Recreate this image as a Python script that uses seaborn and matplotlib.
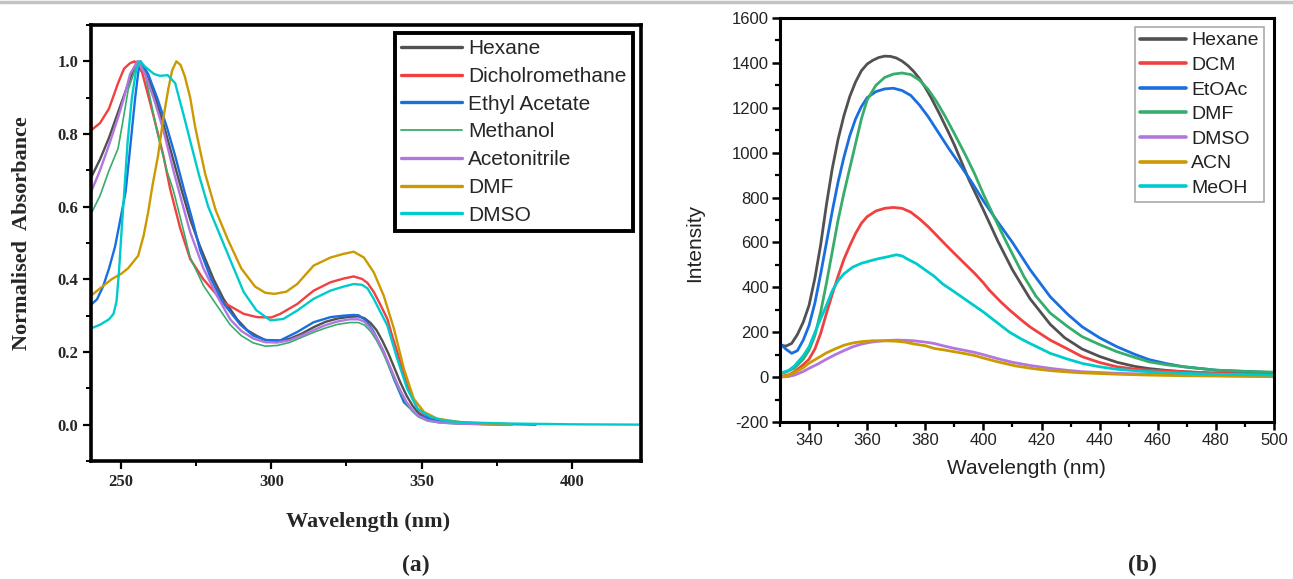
import matplotlib
matplotlib.use("Agg")
import matplotlib.pyplot as plt
import numpy as np
import pandas as pd
import seaborn as sns
from matplotlib.lines import Line2D
from matplotlib.ticker import MultipleLocator
from matplotlib.colors import to_hex

# ---------------- (a) UV-Vis absorbance data ----------------
abs_names = ["Hexane", "Dicholromethane", "Ethyl Acetate", "Methanol",
             "Acetonitrile", "DMF", "DMSO"]
abs_colors = ["#515151", "#F14040", "#1A6FDF", "#37AD6B", "#B177DE", "#CC9900", "#00CBCC"]

hex_x = [240, 243, 246, 249, 252, 254, 255.5, 258, 261, 264, 267, 270, 273, 276.3, 280.8, 284.1, 288.6,
         292, 295, 298, 302, 306, 310, 314, 318, 322, 326, 329, 331, 333, 335, 337, 339, 341, 343, 345,
         347, 349, 352, 356, 362, 370, 380]
hex_y = [0.68, 0.73, 0.79, 0.86, 0.93, 0.975, 1.0, 0.97, 0.91, 0.83, 0.74, 0.65, 0.565, 0.49, 0.40, 0.346, 0.29,
         0.26, 0.245, 0.233, 0.23, 0.236, 0.25, 0.268, 0.283, 0.292, 0.297, 0.298, 0.293, 0.28, 0.26, 0.23,
         0.195, 0.155, 0.115, 0.08, 0.052, 0.032, 0.016, 0.008, 0.004, 0.002, 0.0]

dcm_x = [240, 243, 246, 249, 251, 253, 254.5, 257, 260.8, 264.1, 266.3, 269.7, 273, 277.4, 284, 290.8, 295.2,
         300, 303, 308.6, 314.1, 319.7, 324, 327.4, 330.2, 332, 334.1, 336, 338.6, 340, 341.9, 345.2, 348.6,
         353, 358, 365, 380]
dcm_y = [0.81, 0.83, 0.87, 0.94, 0.98, 0.995, 1.0, 0.97, 0.85, 0.74, 0.65, 0.54, 0.456, 0.40, 0.337, 0.305, 0.296,
         0.295, 0.305, 0.332, 0.369, 0.392, 0.402, 0.408, 0.401, 0.39, 0.365, 0.335, 0.291, 0.25, 0.2, 0.108, 0.044,
         0.0165, 0.008, 0.004, 0.0]

eta_x = [240, 242, 244, 246, 248, 250, 251.5, 253, 254.7, 255.8, 256.5, 259, 262, 265.2, 268, 271, 274, 276.3,
         280, 284, 289.7, 294, 298, 303, 308.6, 314.1, 319.7, 324, 327.4, 329, 330.8, 332.5, 334.1, 337.4,
         340.8, 344.1, 348.6, 355.2, 362, 370, 388]
eta_y = [0.33, 0.345, 0.38, 0.43, 0.49, 0.575, 0.64, 0.76, 0.90, 0.975, 1.0, 0.965, 0.90, 0.82, 0.74, 0.645, 0.555,
         0.48, 0.40, 0.335, 0.275, 0.245, 0.233, 0.232, 0.255, 0.282, 0.296, 0.300, 0.302, 0.301, 0.291, 0.275,
         0.255, 0.2, 0.126, 0.062, 0.026, 0.012, 0.006, 0.003, 0.0]

meo_x = [240, 243, 246, 249, 250.5, 252.4, 255.2, 256, 258, 261.9, 265.2, 267.4, 269.7, 273, 277.4, 281.9,
         286.3, 290, 294, 298, 302, 306, 310, 314, 318, 322, 326, 329, 331, 333, 335, 337, 339, 341, 343,
         345, 347, 349, 352, 356, 362, 370, 380]
meo_y = [0.58, 0.63, 0.70, 0.76, 0.83, 0.923, 0.99, 1.0, 0.965, 0.81, 0.70, 0.645, 0.57, 0.46, 0.383, 0.328,
         0.275, 0.245, 0.225, 0.216, 0.218, 0.226, 0.24, 0.254, 0.266, 0.276, 0.281, 0.281, 0.274, 0.257, 0.232,
         0.2, 0.163, 0.123, 0.088, 0.058, 0.036, 0.021, 0.01, 0.005, 0.002, 0.001, 0.0]

acn_x = [240, 243, 246, 249, 251, 253, 255.5, 258, 261, 264.1, 267.4, 270, 273, 277.4, 281.9, 286.3, 290, 294,
         298, 302, 306, 310, 314, 318, 322, 326, 329, 331, 333, 335, 337, 339, 341, 343, 345, 347, 349, 352,
         356, 362, 370, 380]
acn_y = [0.64, 0.70, 0.77, 0.845, 0.90, 0.965, 1.0, 0.965, 0.895, 0.81, 0.70, 0.62, 0.53, 0.43, 0.355, 0.29,
         0.258, 0.237, 0.227, 0.226, 0.232, 0.245, 0.26, 0.274, 0.284, 0.29, 0.29, 0.283, 0.265, 0.24, 0.208,
         0.17, 0.13, 0.093, 0.062, 0.04, 0.024, 0.012, 0.006, 0.003, 0.001, 0.0]

dmf_x = [240, 243, 246.8, 250, 252.3, 255.7, 257.5, 259, 260.5, 262.3, 264, 265.7, 267, 268.4, 269.8, 271.2,
         273, 274.6, 276.3, 278, 281.5, 285.5, 290, 294.6, 298, 301, 305, 308.6, 314.1, 319.7, 324, 327.4,
         330.8, 334.1, 337.4, 340.8, 344.1, 347.4, 350.8, 355.2, 363, 372, 380]
dmf_y = [0.355, 0.375, 0.40, 0.415, 0.43, 0.465, 0.52, 0.584, 0.66, 0.74, 0.84, 0.923, 0.975, 1.0, 0.99, 0.959,
         0.90, 0.822, 0.755, 0.69, 0.59, 0.51, 0.43, 0.38, 0.363, 0.36, 0.366, 0.387, 0.438, 0.46, 0.47, 0.476,
         0.46, 0.419, 0.355, 0.264, 0.154, 0.071, 0.035, 0.0165, 0.007, 0.003, 0.0]

dms_x = [240, 243, 246, 247.5, 248.5, 249.3, 250.3, 251.3, 252.2, 253.6, 255, 256.3, 258, 261, 263, 265.5, 268,
         271.2, 273.5, 276, 279, 282, 286.5, 290.8, 295, 299.7, 304, 308.6, 314, 319.7, 324, 327.4, 330.2, 332,
         334.1, 336, 338.6, 341.9, 345.2, 348.6, 353, 358, 365, 380, 400, 425]
dms_y = [0.265, 0.275, 0.29, 0.305, 0.34, 0.42, 0.55, 0.67, 0.78, 0.90, 0.975, 1.0, 0.985, 0.965, 0.96, 0.962,
         0.94, 0.84, 0.765, 0.685, 0.60, 0.54, 0.45, 0.365, 0.315, 0.287, 0.291, 0.314, 0.346, 0.369, 0.38,
         0.387, 0.385, 0.375, 0.346, 0.315, 0.273, 0.181, 0.099, 0.044, 0.021, 0.01, 0.006, 0.003, 0.001, 0.0]

abs_x = [hex_x, dcm_x, eta_x, meo_x, acn_x, dmf_x, dms_x]
abs_y = [hex_y, dcm_y, eta_y, meo_y, acn_y, dmf_y, dms_y]

abs_xticks = [250, 300, 350, 400]
abs_yticks = [0.0, 0.2, 0.4, 0.6, 0.8, 1.0]
abs_yticklabels = ["0.0", "0.2", "0.4", "0.6", "0.8", "1.0"]

# ---------------- (b) Fluorescence emission data ----------------
em_names = ["Hexane", "DCM", "EtOAc", "DMF", "DMSO", "ACN", "MeOH"]
em_colors = ["#515151", "#F14040", "#1A6FDF", "#37AD6B", "#B177DE", "#CC9900", "#00CBCC"]

emh_x = [330, 332, 334, 336, 338, 340, 342, 344, 346, 348, 350, 352, 354, 356, 358, 360, 362, 364, 366, 368,
         370, 372, 374, 376, 378, 380, 382, 385, 388, 390, 395, 400, 405, 410, 416, 423, 428, 434, 440, 446,
         452, 457, 463, 469, 480, 490, 500]
emh_y = [143, 138, 150, 190, 245, 320, 440, 590, 770, 930, 1060, 1165, 1250, 1315, 1365, 1395, 1412, 1424, 1430,
         1429, 1422, 1408, 1388, 1362, 1330, 1290, 1245, 1170, 1090, 1035, 880, 745, 605, 478, 350, 235, 175, 125,
         92, 66, 48, 38, 30, 24, 16, 12, 9]

emd_x = [330, 333, 335, 338, 340, 342, 344, 346, 348, 350, 352, 354, 356, 358, 360, 363, 366, 369, 372, 375, 378,
         381, 384, 387, 390, 394, 397, 400, 402, 406, 409, 413, 416, 420, 423, 429, 434, 440, 446, 452, 457, 469,
         480, 490, 500]
emd_y = [3, 10, 24, 55, 80, 125, 195, 285, 370, 450, 525, 585, 640, 685, 715, 740, 752, 756, 752, 735, 705, 670,
         630, 590, 551, 500, 462, 420, 388, 335, 299, 255, 224, 190, 165, 125, 91, 65, 46, 36, 31, 24, 18, 15, 13]

eme_x = [330, 332, 334, 336, 338, 340, 342, 344, 346, 348, 350, 352, 354, 356, 358, 360, 363, 366, 369, 372, 375,
         378, 381, 384, 388, 392, 396, 400, 405, 410, 416, 423, 429, 434, 440, 446, 452, 457, 463, 469, 480, 490,
         500]
eme_y = [150, 125, 106, 118, 165, 230, 330, 460, 600, 740, 870, 980, 1075, 1150, 1205, 1245, 1272, 1284, 1287,
         1277, 1255, 1212, 1160, 1100, 1020, 945, 868, 785, 690, 600, 480, 358, 280, 224, 175, 135, 102, 78, 60,
         46, 31, 25, 20]

emf_x = [330, 332, 335, 338, 340, 342, 344, 346, 348, 350, 352, 354, 356, 358, 360, 363, 366, 369, 372, 375, 378,
         381, 384, 387, 390, 394, 397, 400, 404, 407, 410, 414, 418, 423, 429, 434, 440, 446, 452, 457, 463, 469,
         480, 490, 500]
emf_y = [17, 22, 40, 80, 120, 185, 290, 420, 560, 700, 820, 930, 1040, 1150, 1235, 1300, 1335, 1350, 1355, 1348,
         1323, 1282, 1225, 1158, 1085, 985, 905, 815, 705, 625, 548, 447, 362, 285, 225, 180, 145, 113, 88, 68,
         55, 46, 31, 26, 22]

ems_x = [330, 333, 335, 338, 340, 343, 346, 349, 352, 355, 358, 361, 364, 367, 370, 373, 376, 380, 383, 387, 390,
         394, 397, 400, 405, 410, 416, 423, 429, 434, 446, 457, 470, 485, 500]
ems_y = [0, 3, 9, 25, 39, 58, 80, 100, 118, 135, 147, 155, 160, 163, 165, 164, 162, 156, 150, 137, 128, 118, 110,
         100, 82, 66, 52, 39, 30, 24, 17, 13, 9, 6, 4]

ema_x = [330, 333, 335, 338, 340, 343, 346, 349, 352, 355, 358, 362, 366, 370, 373, 376, 380, 383, 387, 390, 394,
         397, 400, 405, 411, 417, 423, 429, 434, 446, 457, 470, 485, 500]
ema_y = [0, 8, 20, 42, 62, 85, 108, 126, 142, 152, 158, 162, 162, 160, 156, 148, 140, 128, 120, 113, 104, 96, 85,
         68, 50, 38, 29, 23, 19, 13, 9, 6, 4, 2]

emm_x = [330, 333, 335, 338, 340, 343, 346, 348, 350, 352, 355, 358, 361, 364, 367, 370, 372, 374, 377, 380, 383,
         386, 390, 395, 400, 405, 409, 413, 416, 420, 423, 429, 434, 440, 446, 457, 469, 480, 490, 500]
emm_y = [17, 30, 50, 95, 135, 230, 320, 385, 430, 460, 490, 507, 518, 528, 536, 545, 540, 525, 505, 477, 450, 415,
         380, 335, 290, 240, 200, 170, 150, 125, 106, 80, 61, 46, 35, 24, 17, 13, 11, 9]

em_x = [emh_x, emd_x, eme_x, emf_x, ems_x, ema_x, emm_x]
em_y = [emh_y, emd_y, eme_y, emf_y, ems_y, ema_y, emm_y]

em_xticks = [340, 360, 380, 400, 420, 440, 460, 480, 500]
em_yticks = [-200, 0, 200, 400, 600, 800, 1000, 1200, 1400, 1600]


def long_frame(names, xs, ys, yname):
    parts = [pd.DataFrame({"wl": x, yname: y, "solvent": n}) for n, x, y in zip(names, xs, ys)]
    return pd.concat(parts, ignore_index=True)


df_abs = long_frame(abs_names, abs_x, abs_y, "absorbance")
df_em = long_frame(em_names, em_x, em_y, "intensity")

sns.set_theme(style="white")
plt.rcParams["font.family"] = ["Liberation Sans", "DejaVu Sans"]

W, H = 1293, 579
fig = plt.figure(figsize=(W / 100, H / 100), dpi=100)
axA = fig.add_axes([91 / W, 1 - 461 / H, 550 / W, 436 / H])
axB = fig.add_axes([780 / W, 1 - 422 / H, 494 / W, 404 / H])

# ---------------- panel (a) ----------------
sns.lineplot(data=df_abs, x="wl", y="absorbance", hue="solvent", hue_order=abs_names,
             palette=abs_colors, estimator=None, sort=True, legend=False, ax=axA, linewidth=1.7)
for ln in axA.get_lines():
    if to_hex(ln.get_color()).lower() == "#37ad6b":
        ln.set_linewidth(1.2)

axA.set_xlim(240, 423)
axA.set_ylim(-0.1, 1.1)
axA.set_xticks(abs_xticks)
axA.set_xticklabels([str(t) for t in abs_xticks], fontfamily="Liberation Serif", fontweight="bold", fontsize=12)
axA.set_yticks(abs_yticks)
axA.set_yticklabels(abs_yticklabels, fontfamily="Liberation Serif", fontweight="bold", fontsize=12)
axA.xaxis.set_minor_locator(MultipleLocator(25))
axA.yaxis.set_minor_locator(MultipleLocator(0.1))
axA.tick_params(which="major", direction="out", length=6, width=1.6, bottom=True, left=True, color="black", pad=3)
axA.tick_params(which="minor", direction="out", length=3.5, width=1.4, bottom=True, left=True, color="black")
for sp in axA.spines.values():
    sp.set_visible(True)
    sp.set_color("black")
    sp.set_linewidth(2.6)
axA.set_xlabel("Wavelength (nm)", fontfamily="Liberation Serif", fontweight="bold", fontsize=16)
axA.set_ylabel("Normalised  Absorbance", fontfamily="Liberation Serif", fontweight="bold", fontsize=16)
axA.xaxis.set_label_coords(0.504, -0.117)
axA.yaxis.set_label_coords(-0.107, 0.523)

hA = [Line2D([], [], color=c, lw=2.4 if n != "Methanol" else 1.3) for n, c in zip(abs_names, abs_colors)]
legA = axA.legend(hA, abs_names, loc="upper right", bbox_to_anchor=(0.985, 0.982), borderaxespad=0,
                  frameon=True, fancybox=False, framealpha=1, edgecolor="black",
                  prop={"family": "Liberation Sans", "size": 15}, handlelength=2.9, handletextpad=0.3,
                  labelspacing=0.42, borderpad=0.3)
legA.get_frame().set_linewidth(2.8)

# ---------------- panel (b) ----------------
sns.lineplot(data=df_em, x="wl", y="intensity", hue="solvent", hue_order=em_names,
             palette=em_colors, estimator=None, sort=True, legend=False, ax=axB, linewidth=2.0)
axB.set_xlim(330, 500)
axB.set_ylim(-200, 1600)
axB.set_xticks(em_xticks)
axB.set_xticklabels([str(t) for t in em_xticks], fontsize=12)
axB.set_yticks(em_yticks)
axB.set_yticklabels([str(t) for t in em_yticks], fontsize=12)
axB.xaxis.set_minor_locator(MultipleLocator(10))
axB.yaxis.set_minor_locator(MultipleLocator(100))
axB.tick_params(which="major", direction="out", length=6, width=1.8, bottom=True, left=True, color="black",
                pad=2, labelcolor="#222222")
axB.tick_params(which="minor", direction="out", length=3.5, width=1.6, bottom=True, left=True, color="black")
for sp in axB.spines.values():
    sp.set_visible(True)
    sp.set_color("black")
    sp.set_linewidth(2.2)
axB.set_xlabel("Wavelength (nm)", fontsize=15, color="#222222")
axB.set_ylabel("Intensity", fontsize=15, color="#222222")
axB.xaxis.set_label_coords(0.499, -0.092)
axB.yaxis.set_label_coords(-0.154, 0.443)

hB = [Line2D([], [], color=c, lw=2.6) for c in em_colors]
legB = axB.legend(hB, em_names, loc="upper right", bbox_to_anchor=(0.979, 0.978), borderaxespad=0,
                  frameon=True, fancybox=False, framealpha=1, edgecolor="#aaaaaa",
                  prop={"family": "Liberation Sans", "size": 14}, handlelength=2.4, handletextpad=0.25,
                  labelspacing=0.36, borderpad=0.25)
legB.get_frame().set_linewidth(1.2)
for t in legB.get_texts():
    t.set_color("#222222")

# panel letters and top rule
fig.text(416 / W, 1 - 565 / H, "(a)", ha="center", va="center", fontfamily="Liberation Serif",
         fontweight="bold", fontsize=17)
fig.text(1142 / W, 1 - 565 / H, "(b)", ha="center", va="center", fontfamily="Liberation Serif",
         fontweight="bold", fontsize=17)
fig.add_artist(Line2D([0, 1], [1 - 2 / H, 1 - 2 / H], transform=fig.transFigure, color="#c4c4c4", lw=2.5))

fig.savefig("out.png", dpi=100)
